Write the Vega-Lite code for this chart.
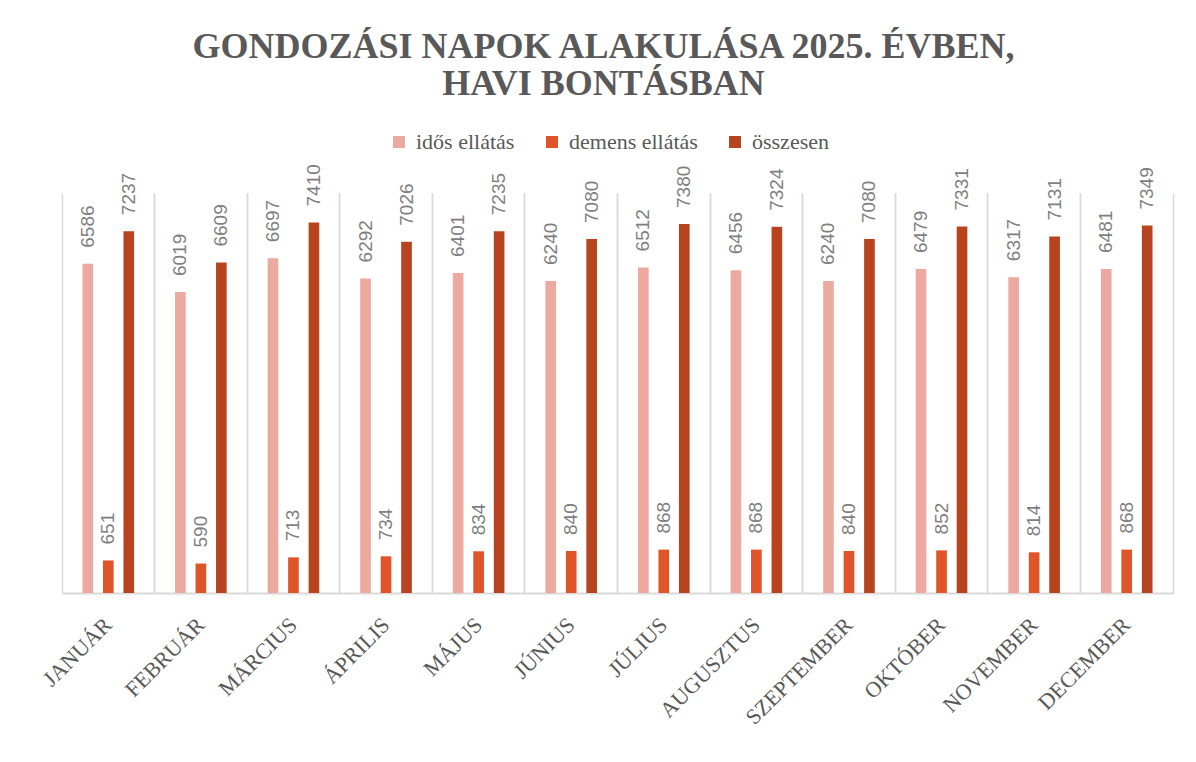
{
  "$schema": "https://vega.github.io/schema/vega-lite/v6.json",
  "autosize": "none",
  "padding": {"left": 62, "top": 193, "right": 23, "bottom": 169},
  "width": 1111,
  "height": 400,
  "background": "white",
  "title": {
    "text": ["GONDOZÁSI NAPOK ALAKULÁSA 2025. ÉVBEN,", "HAVI BONTÁSBAN"],
    "font": "Liberation Serif",
    "fontSize": 36,
    "fontWeight": "bold",
    "color": "#595959",
    "lineHeight": 37,
    "anchor": "middle",
    "frame": "group",
    "baseline": "alphabetic",
    "offset": 0,
    "dx": -14
  },
  "data": {
    "values": [
      {"honap": "JANUÁR", "sorozat": "idős ellátás", "ertek": 6586},
      {"honap": "JANUÁR", "sorozat": "demens ellátás", "ertek": 651},
      {"honap": "JANUÁR", "sorozat": "összesen", "ertek": 7237},
      {"honap": "FEBRUÁR", "sorozat": "idős ellátás", "ertek": 6019},
      {"honap": "FEBRUÁR", "sorozat": "demens ellátás", "ertek": 590},
      {"honap": "FEBRUÁR", "sorozat": "összesen", "ertek": 6609},
      {"honap": "MÁRCIUS", "sorozat": "idős ellátás", "ertek": 6697},
      {"honap": "MÁRCIUS", "sorozat": "demens ellátás", "ertek": 713},
      {"honap": "MÁRCIUS", "sorozat": "összesen", "ertek": 7410},
      {"honap": "ÁPRILIS", "sorozat": "idős ellátás", "ertek": 6292},
      {"honap": "ÁPRILIS", "sorozat": "demens ellátás", "ertek": 734},
      {"honap": "ÁPRILIS", "sorozat": "összesen", "ertek": 7026},
      {"honap": "MÁJUS", "sorozat": "idős ellátás", "ertek": 6401},
      {"honap": "MÁJUS", "sorozat": "demens ellátás", "ertek": 834},
      {"honap": "MÁJUS", "sorozat": "összesen", "ertek": 7235},
      {"honap": "JÚNIUS", "sorozat": "idős ellátás", "ertek": 6240},
      {"honap": "JÚNIUS", "sorozat": "demens ellátás", "ertek": 840},
      {"honap": "JÚNIUS", "sorozat": "összesen", "ertek": 7080},
      {"honap": "JÚLIUS", "sorozat": "idős ellátás", "ertek": 6512},
      {"honap": "JÚLIUS", "sorozat": "demens ellátás", "ertek": 868},
      {"honap": "JÚLIUS", "sorozat": "összesen", "ertek": 7380},
      {"honap": "AUGUSZTUS", "sorozat": "idős ellátás", "ertek": 6456},
      {"honap": "AUGUSZTUS", "sorozat": "demens ellátás", "ertek": 868},
      {"honap": "AUGUSZTUS", "sorozat": "összesen", "ertek": 7324},
      {"honap": "SZEPTEMBER", "sorozat": "idős ellátás", "ertek": 6240},
      {"honap": "SZEPTEMBER", "sorozat": "demens ellátás", "ertek": 840},
      {"honap": "SZEPTEMBER", "sorozat": "összesen", "ertek": 7080},
      {"honap": "OKTÓBER", "sorozat": "idős ellátás", "ertek": 6479},
      {"honap": "OKTÓBER", "sorozat": "demens ellátás", "ertek": 852},
      {"honap": "OKTÓBER", "sorozat": "összesen", "ertek": 7331},
      {"honap": "NOVEMBER", "sorozat": "idős ellátás", "ertek": 6317},
      {"honap": "NOVEMBER", "sorozat": "demens ellátás", "ertek": 814},
      {"honap": "NOVEMBER", "sorozat": "összesen", "ertek": 7131},
      {"honap": "DECEMBER", "sorozat": "idős ellátás", "ertek": 6481},
      {"honap": "DECEMBER", "sorozat": "demens ellátás", "ertek": 868},
      {"honap": "DECEMBER", "sorozat": "összesen", "ertek": 7349}
    ]
  },
  "encoding": {
    "x": {
      "field": "honap",
      "type": "nominal",
      "sort": null,
      "scale": {"paddingInner": 0, "paddingOuter": 0}
    },
    "xOffset": {
      "field": "sorozat",
      "type": "nominal",
      "sort": ["idős ellátás", "demens ellátás", "összesen"],
      "scale": {"paddingInner": 0.48, "paddingOuter": 1.15}
    },
    "y": {
      "field": "ertek",
      "type": "quantitative",
      "scale": {"domain": [0, 8000], "nice": false, "zero": true},
      "axis": null
    }
  },
  "layer": [
    {
      "mark": {"type": "bar"},
      "encoding": {
        "x": {
          "field": "honap",
          "type": "nominal",
          "sort": null,
          "title": null,
          "axis": {
            "orient": "bottom",
            "bandPosition": 0,
            "grid": true,
            "gridColor": "#d9d9d9",
            "gridWidth": 1.5,
            "domain": true,
            "domainColor": "#d9d9d9",
            "domainWidth": 2,
            "ticks": false,
            "labelAngle": -45,
            "labelAlign": "right",
            "labelBaseline": "middle",
            "labelPadding": 28,
            "labelFont": "Liberation Serif",
            "labelFontSize": 22,
            "labelColor": "#595959",
            "labelBound": false,
            "labelOverlap": false,
            "zindex": 0
          }
        },
        "color": {
          "field": "sorozat",
          "type": "nominal",
          "scale": {
            "domain": ["idős ellátás", "demens ellátás", "összesen"],
            "range": ["#eca99f", "#e0542a", "#b8431f"]
          },
          "legend": {
            "orient": "none",
            "direction": "horizontal",
            "legendX": 326,
            "legendY": -62,
            "title": null,
            "symbolType": "square",
            "symbolSize": 144,
            "symbolStrokeWidth": 0,
            "labelFont": "Liberation Serif",
            "labelFontSize": 22,
            "labelColor": "#595959",
            "labelOffset": 6,
            "columnPadding": 26
          }
        }
      }
    },
    {
      "mark": {
        "type": "text",
        "angle": -90,
        "align": "left",
        "baseline": "middle",
        "dx": 16,
        "font": "Liberation Sans",
        "fontSize": 19,
        "color": "#7f7f7f"
      },
      "encoding": {
        "x": {
          "field": "honap",
          "type": "nominal",
          "sort": null,
          "title": null,
          "axis": {
            "orient": "top",
            "bandPosition": 1,
            "grid": true,
            "gridColor": "#d9d9d9",
            "gridWidth": 1.5,
            "domain": false,
            "ticks": false,
            "labels": false,
            "zindex": 0
          }
        },
        "text": {"field": "ertek", "type": "quantitative"}
      }
    }
  ],
  "resolve": {"axis": {"x": "independent"}},
  "config": {
    "view": {"stroke": null}
  }
}
